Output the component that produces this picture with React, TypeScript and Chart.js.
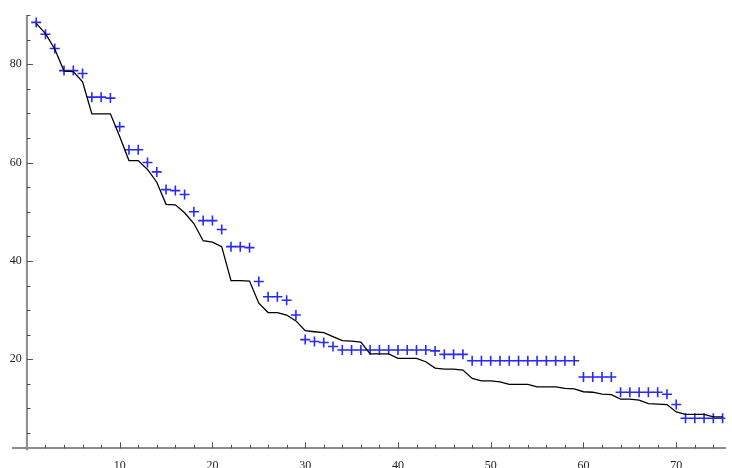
import React, { useEffect, useRef } from "react";
import { Chart, registerables } from "chart.js";

Chart.register(...registerables);

// x positions of the data (index)
const xIndex = [
  1, 2, 3, 4, 5, 6, 7, 8, 9, 10, 11, 12, 13, 14, 15, 16, 17, 18, 19, 20,
  21, 22, 23, 24, 25, 26, 27, 28, 29, 30, 31, 32, 33, 34, 35, 36, 37, 38, 39, 40,
  41, 42, 43, 44, 45, 46, 47, 48, 49, 50, 51, 52, 53, 54, 55, 56, 57, 58, 59, 60,
  61, 62, 63, 64, 65, 66, 67, 68, 69, 70, 71, 72, 73, 74, 75,
];

// blue "+" markers
const markerValues = [
  88.5, 86.1, 83.2, 78.7, 78.7, 78.1, 73.3, 73.3, 73.1, 67.3,
  62.6, 62.6, 60.0, 58.1, 54.5, 54.3, 53.5, 50.0, 48.2, 48.2,
  46.4, 42.9, 42.9, 42.7, 35.8, 32.7, 32.7, 32.0, 29.0, 24.0,
  23.6, 23.4, 22.6, 21.9, 21.9, 21.9, 21.9, 21.9, 21.9, 21.9,
  21.9, 21.9, 21.9, 21.7, 21.0, 21.0, 21.0, 19.7, 19.7, 19.7,
  19.7, 19.7, 19.7, 19.7, 19.7, 19.7, 19.7, 19.7, 19.7, 16.4,
  16.4, 16.4, 16.4, 13.3, 13.3, 13.3, 13.3, 13.3, 12.9, 10.8,
  8.0, 8.0, 8.0, 8.0, 8.0,
];

// black line
const lineValues = [
  88.3, 86.2, 83.1, 78.6, 78.5, 76.4, 69.9, 69.9, 69.9, 65.3,
  60.4, 60.4, 58.6, 56.0, 51.5, 51.4, 49.8, 47.6, 44.1, 43.8,
  42.9, 36.0, 36.0, 35.9, 31.4, 29.5, 29.5, 29.0, 27.8, 25.8,
  25.6, 25.4, 24.6, 23.8, 23.7, 23.5, 21.1, 21.1, 21.1, 20.2,
  20.2, 20.2, 19.5, 18.2, 18.0, 18.0, 17.8, 16.1, 15.6, 15.6,
  15.4, 14.9, 14.9, 14.9, 14.4, 14.4, 14.4, 14.1, 14.0, 13.4,
  13.3, 12.9, 12.8, 11.9, 11.9, 11.7, 11.0, 10.9, 10.8, 9.3,
  8.8, 8.8, 8.8, 8.3, 8.3,
];

// tick labels and tick marks
const xTickLabels = [10, 20, 30, 40, 50, 60, 70];
const xMinorTicks = [
  2, 4, 6, 8, 12, 14, 16, 18, 22, 24, 26, 28, 32, 34, 36, 38, 42, 44, 46, 48,
  52, 54, 56, 58, 62, 64, 66, 68, 72, 74,
];
const yTickLabels = [20, 40, 60, 80];
const yMinorTicks = [5, 10, 15, 25, 30, 35, 45, 50, 55, 65, 70, 75, 85, 90];

// axis ranges / crossing
const xRange = [-1.5, 75.3];
const yRange = [1.9, 90];
const axisCrossX = 0;
const axisCrossY = 1.9;
const yLabelAnchorX = -0.55;

const FONT = "'Liberation Serif', 'Times New Roman', serif";
const AXIS_COLOR = "rgb(140,140,140)";

const axisPlugin = {
  id: "mmaAxes",
  afterDraw(chart: any) {
    const { ctx, chartArea } = chart;
    const xs = chart.scales.x;
    const ys = chart.scales.y;
    const xAxisPx = ys.getPixelForValue(axisCrossY);
    const yAxisPx = xs.getPixelForValue(axisCrossX);
    ctx.save();
    // vertical axis line
    ctx.strokeStyle = AXIS_COLOR;
    ctx.lineWidth = 2;
    ctx.beginPath();
    ctx.moveTo(yAxisPx, chartArea.top);
    ctx.lineTo(yAxisPx, xAxisPx + 2);
    ctx.stroke();
    // tick marks
    ctx.strokeStyle = "#505050";
    ctx.lineWidth = 1;
    ctx.beginPath();
    const drawX = (v: number, len: number) => {
      const px = Math.round(xs.getPixelForValue(v)) + 0.5;
      ctx.moveTo(px, xAxisPx);
      ctx.lineTo(px, xAxisPx - len);
    };
    const drawY = (v: number, len: number) => {
      const py = Math.round(ys.getPixelForValue(v)) + 0.5;
      ctx.moveTo(yAxisPx, py);
      ctx.lineTo(yAxisPx + len, py);
    };
    xMinorTicks.forEach((v) => drawX(v, 3.5));
    xTickLabels.forEach((v) => drawX(v, 6));
    yMinorTicks.forEach((v) => drawY(v, 3.5));
    yTickLabels.forEach((v) => drawY(v, 6));
    ctx.stroke();
    ctx.restore();
  },
};

export default function App() {
  const canvasRef = useRef<HTMLCanvasElement | null>(null);

  useEffect(() => {
    const canvas = canvasRef.current;
    if (!canvas) return;
    const markerData = xIndex.map((x, i) => ({ x, y: markerValues[i] }));
    const lineData = xIndex.map((x, i) => ({ x, y: lineValues[i] }));

    const chart = new Chart(canvas, {
      type: "scatter",
      data: {
        datasets: [
          {
            label: "line",
            data: lineData,
            showLine: true,
            borderColor: "#000000",
            borderWidth: 1.3,
            pointRadius: 0,
            tension: 0,
            fill: false,
          },
          {
            label: "markers",
            data: markerData,
            showLine: false,
            pointStyle: "cross",
            pointRadius: 5,
            pointBorderWidth: 1.6,
            borderColor: "rgb(40,40,255)",
            backgroundColor: "rgb(40,40,255)",
          },
        ],
      },
      options: {
        animation: false,
        responsive: false,
        events: [],
        layout: { padding: { left: 13, top: 15, right: 0, bottom: 19.7 } },
        plugins: {
          legend: { display: false },
          tooltip: { enabled: false },
        },
        scales: {
          x: {
            type: "linear",
            position: { y: axisCrossY } as any,
            min: xRange[0],
            max: xRange[1],
            afterBuildTicks: (scale: any) => {
              scale.ticks = xTickLabels.map((v) => ({ value: v }));
            },
            grid: { display: true, drawOnChartArea: false, drawTicks: false, color: "rgba(0,0,0,0)" },
            border: { display: true, color: AXIS_COLOR, width: 2 },
            ticks: {
              autoSkip: false,
              maxRotation: 0,
              padding: 10.5,
              color: "#222222",
              font: { family: FONT, size: 12 },
              callback: (v: any) => String(v),
            },
          },
          y: {
            type: "linear",
            position: { x: yLabelAnchorX } as any,
            min: yRange[0],
            max: yRange[1],
            afterBuildTicks: (scale: any) => {
              scale.ticks = yTickLabels.map((v) => ({ value: v }));
            },
            grid: { display: true, drawOnChartArea: false, drawTicks: false, color: "rgba(0,0,0,0)" },
            border: { display: false },
            ticks: {
              autoSkip: false,
              padding: 0,
              color: "#222222",
              font: { family: FONT, size: 12 },
              callback: (v: any) => String(v),
            },
          },
        },
      },
      plugins: [axisPlugin],
    });
    return () => chart.destroy();
  }, []);

  return (
    <div style={{ position: "fixed", left: 0, top: 0, width: 732, height: 468, background: "#ffffff" }}>
      <canvas ref={canvasRef} width={732} height={468} style={{ display: "block" }} />
    </div>
  );
}
